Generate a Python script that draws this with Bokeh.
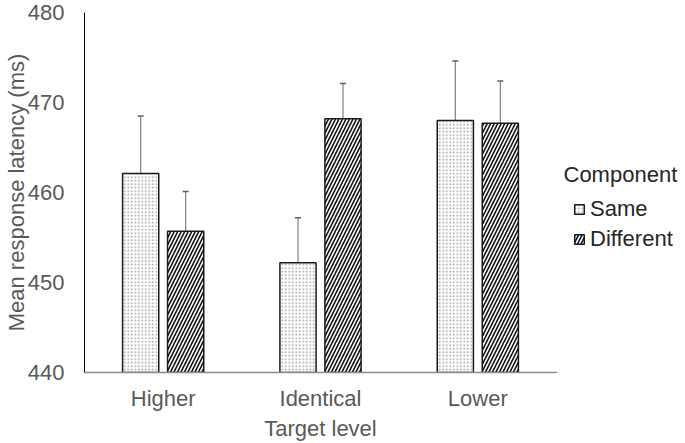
from bokeh.plotting import figure
from bokeh.layouts import row
from bokeh.models import (ColumnDataSource, FactorRange, Range1d, FixedTicker, Whisker,
                          TeeHead, Legend, LegendItem, Label)
from bokeh.transform import dodge
from bokeh.embed import file_html
from bokeh.resources import INLINE

# ---- data ----
categories = ["Higher", "Identical", "Lower"]
same_mean = [462.1, 452.2, 468.0]
same_low = [457.7, 448.2, 463.1]
same_high = [468.5, 457.2, 474.6]
diff_mean = [455.7, 468.2, 467.7]
diff_low = [451.3, 464.4, 463.0]
diff_high = [460.1, 472.1, 472.4]
y_ticks = [440, 450, 460, 470, 480]
series_names = ["Same", "Different"]
legend_title = "Component"

FONT = "Liberation Sans"
FS = "22px"
H = 443
W_MAIN, W_LEG = 556, 129
FRAME_BOTTOM = 373  # expected frame bottom inside the figure (px from top)

SAME_STYLE = dict(fill_color="white", line_color="#1a1a1a", line_width=1.5,
                  hatch_pattern=".", hatch_color="#9a9a9a", hatch_scale=3.5, hatch_weight=1)
DIFF_STYLE = dict(fill_color="white", line_color="#1a1a1a", line_width=1.5,
                  hatch_pattern="/", hatch_color="#111111", hatch_scale=7, hatch_weight=1.6)

src = ColumnDataSource(dict(cat=categories, same=same_mean, same_lo=same_low, same_hi=same_high,
                            diff=diff_mean, diff_lo=diff_low, diff_hi=diff_high))

p = figure(width=W_MAIN, height=H, x_range=FactorRange(factors=categories, range_padding=0),
           y_range=Range1d(440, 480), output_backend="svg", toolbar_location=None,
           min_border_left=80, min_border_right=0, min_border_top=12, min_border_bottom=40)
p.outline_line_color = None
p.xgrid.grid_line_color = None
p.ygrid.grid_line_color = None

off = 0.143
bw = 0.23
p.vbar(x=dodge("cat", -off, range=p.x_range), top="same", width=bw, source=src, **SAME_STYLE)
p.vbar(x=dodge("cat", off, range=p.x_range), top="diff", width=bw, source=src, **DIFF_STYLE)

for base_off, lo, hi in [(-off, "same_lo", "same_hi"), (off, "diff_lo", "diff_hi")]:
    w = Whisker(base=dodge("cat", base_off, range=p.x_range), lower=lo, upper=hi, source=src,
                line_color="#808080", line_width=1.2,
                upper_head=TeeHead(size=6, line_color="#606060", line_width=1.5),
                lower_head=TeeHead(size=6, line_color="#606060", line_width=1.5))
    p.add_layout(w)

# axes
p.yaxis.ticker = FixedTicker(ticks=y_ticks)
p.yaxis.axis_label = "Mean response latency (ms)"
p.xaxis.axis_label = "Target level"
for ax in (p.xaxis[0], p.yaxis[0]):
    ax.major_tick_line_color = None
    ax.minor_tick_line_color = None
    ax.major_tick_out = 0
    ax.major_tick_in = 0
    ax.minor_tick_out = 0
    ax.minor_tick_in = 0
    ax.major_label_text_font = FONT
    ax.major_label_text_font_size = FS
    ax.major_label_text_color = "#595959"
    ax.axis_label_text_font = FONT
    ax.axis_label_text_font_size = FS
    ax.axis_label_text_font_style = "normal"
    ax.axis_label_text_color = "#595959"
p.yaxis.axis_line_color = "black"
p.yaxis.axis_line_width = 1
p.yaxis.major_label_standoff = 20
p.yaxis.axis_label_standoff = -4
p.xaxis.axis_line_color = "#8c8c8c"
p.xaxis.axis_line_width = 1.5
p.xaxis.major_label_standoff = 13
p.xaxis.axis_label_standoff = 2

# legend panel (separate figure to the right, frame aligned with the main plot)
q = figure(width=W_LEG, height=H, x_range=Range1d(0, 1), y_range=Range1d(0, 1),
           output_backend="svg", toolbar_location=None,
           x_axis_location=None, y_axis_location=None,
           min_border_left=0, min_border_right=0, min_border_top=0, min_border_bottom=0)
q.outline_line_color = None
q.xgrid.grid_line_color = None
q.ygrid.grid_line_color = None
# legend proxies: one point placed outside the (0..1) view so only the swatch shows
proxy = ColumnDataSource(dict(x=[-5.0], top=[-5.0]))
l_same = q.vbar(x="x", top="top", width=0.1, source=proxy, **SAME_STYLE)
l_diff = q.vbar(x="x", top="top", width=0.1, source=proxy, **DIFF_STYLE)

legend = Legend(items=[LegendItem(label=series_names[0], renderers=[l_same]),
                       LegendItem(label=series_names[1], renderers=[l_diff])],
                location=(17, FRAME_BOTTOM - 253), orientation="vertical",
                glyph_width=12, glyph_height=12, label_height=25, spacing=4,
                label_standoff=5, padding=0, margin=0,
                label_text_font=FONT, label_text_font_size=FS, label_text_color="#262626",
                border_line_color=None, background_fill_alpha=0)
q.add_layout(legend)
q.add_layout(Label(x=7, y=FRAME_BOTTOM - 175, x_units="screen", y_units="screen",
                   text=legend_title,
                   text_font=FONT, text_font_size=FS, text_color="#262626",
                   text_baseline="middle", text_align="left"))

layout = row(p, q, spacing=0)
open("out.html", "w").write(file_html(layout, INLINE))
